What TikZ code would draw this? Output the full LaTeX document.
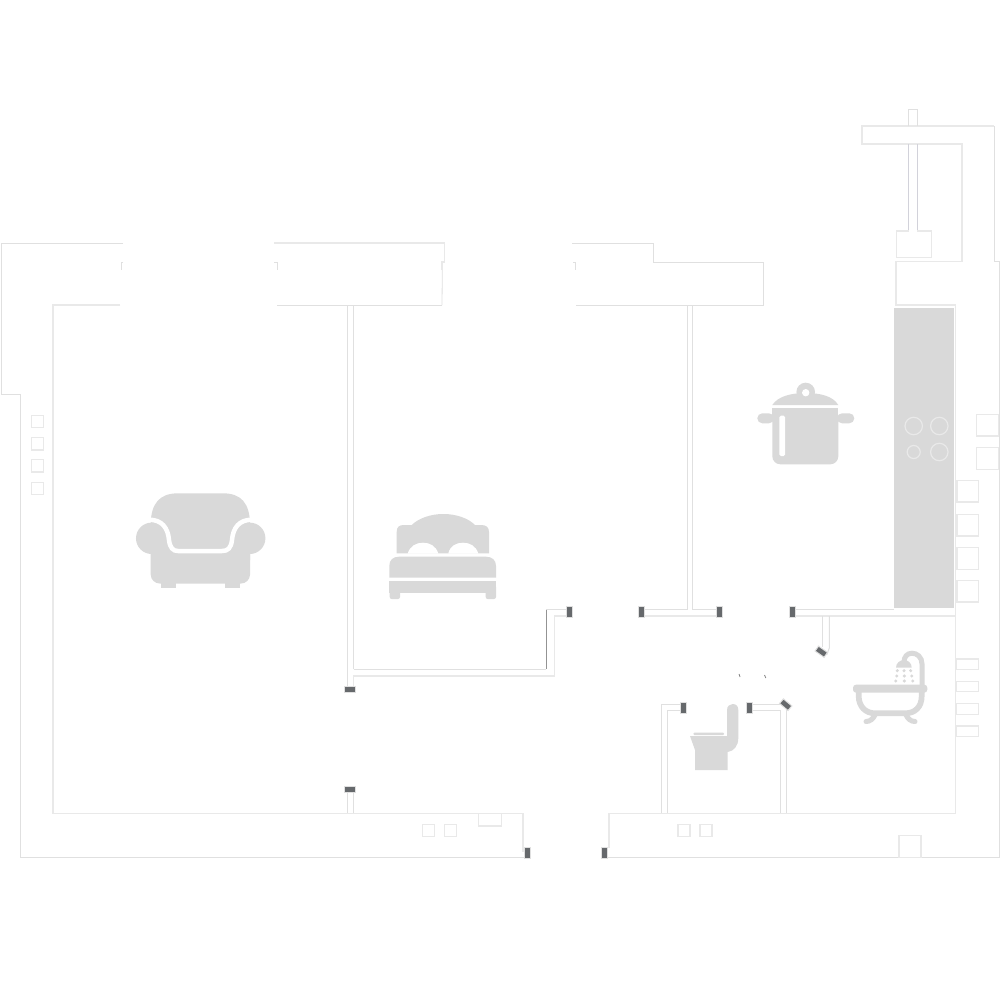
\documentclass[tikz,border=0pt]{standalone}
\definecolor{wallc}{HTML}{E0E0E0}
\definecolor{wallb}{HTML}{E9E9E9}
\definecolor{icon}{HTML}{D9D9D9}
\definecolor{jamb}{HTML}{66696C}
\definecolor{blu}{HTML}{D2D2DA}
\tikzset{
 wall/.style={draw=wallc,line width=0.1mm,line join=miter},
 wallthick/.style={draw=wallb,line width=0.17mm,line join=miter},
 fixture/.style={draw=wallb,line width=0.13mm,fill=white},
 jambbox/.style={fill=jamb,draw=wallc,line width=0.1mm},
 burner/.style={draw=wallb,line width=0.12mm},
 iconfill/.style={fill=icon,draw=none}
}
\begin{document}
\begin{tikzpicture}[x=0.01cm,y=-0.01cm]
\path[use as bounding box,fill=white] (0,0) rectangle (1000,1000);
% left part outer wall
\draw[wall] (123,243) -- (1.5,243) -- (1.5,394) -- (20.5,394) -- (20.5,857.5) -- (524,857.5);
\draw[wallthick] (120,305) -- (53,305) -- (53,813.5) -- (522.7,813.5) -- (522.7,852);
\draw[wall] (123,262) -- (121,262) -- (121,270);
\draw[wall] (274,262) -- (277,262) -- (277,270);
% upper wall pieces
\draw[wallthick] (274,243) -- (444.6,243) -- (444.6,262) -- (442.3,262) -- (442.3,270);
\draw[wall,line width=0.08mm] (442.3,270) -- (442,305);
\draw[wall] (277,305) -- (442,305);
\draw[wall] (572,243) -- (653.5,243) -- (653.5,262) -- (763,262) -- (763,305) -- (576,305);
\draw[wall] (573,262) -- (575.5,262) -- (575.5,270);
% living/bedroom partition
\draw[wall] (347,305) -- (347,686);
\draw[wall] (353.5,305) -- (353.5,669);
\draw[wall] (353.5,669) -- (546,669);
\draw[draw=gray!85,line width=0.1mm] (546,669) -- (546,609);
\draw[wall] (546,609) -- (567,609);
\draw[wallthick] (353.5,686) -- (353.5,676) -- (554.5,676) -- (554.5,616) -- (567,616);
\draw[wall] (347,792) -- (347,813);
\draw[wall] (353.5,792) -- (353.5,813);
% kitchen partition
\draw[wall] (644,609.3) -- (687.3,609.3) -- (687.3,305);
\draw[wall] (692.7,305) -- (692.7,609.3) -- (716,609.3);
\draw[wallthick] (644,615.8) -- (716,615.8);
% hood and chimney
\draw[wallthick] (994,126) -- (861.7,126) -- (861.7,144.3) -- (962,144.3) -- (962,261.5) -- (896.3,261.5) -- (896.3,305.3) -- (955.5,305.3);
\draw[wall] (994,126) -- (994,261.5) -- (999,261.5) -- (999,857.5) -- (607,857.5);
\draw[wall] (908.3,126) -- (908.3,109.5) -- (917.7,109.5) -- (917.7,126);
\draw[blu,line width=0.14mm] (908.3,144) -- (908.3,231);
\draw[blu,line width=0.14mm] (917.7,144) -- (917.7,231);
\draw[fixture] (896.3,231) rectangle (931.7,257.3);
\draw[white,line width=0.14mm] (909,231) -- (917,231);
% counter
\fill[icon] (894.3,307.5) rectangle (954.3,608.3);
\draw[burner] (913.7,426) circle (0.87mm);
\draw[burner] (939.3,426) circle (0.87mm);
\draw[burner] (913.7,452) circle (0.65mm);
\draw[burner] (939.3,452) circle (0.87mm);
% right inner walls
\draw[wallthick] (955.5,305) -- (955.5,813.5) -- (608.7,813.5) -- (608.7,848);
\draw[wall] (795,609) -- (894.3,609);
\draw[wallthick] (795,615.8) -- (955,615.8);
\draw[wall] (822.3,616) -- (822.3,647);
\draw[wall] (829.3,616) -- (829.3,648) -- (826.7,655);
% bathroom walls
\draw[wall] (680,704.3) -- (661.3,704.3) -- (661.3,813);
\draw[wall] (680,710.7) -- (667.3,710.7) -- (667.3,813);
\draw[wall] (752,704.3) -- (782,704.3);
\draw[wall] (752,710.7) -- (780,710.7) -- (780,813);
\draw[wall] (786,708) -- (786,813);
% small fixtures
\foreach \y in {415.3,437.7,459.7,482.3} \draw[fixture] (31.3,\y) rectangle +(12.4,12.4);
\foreach \x in {422.3,444.3} \draw[fixture] (\x,824.3) rectangle +(12.4,12.4);
\foreach \x in {678,700} \draw[fixture] (\x,824.3) rectangle +(12,12);
\draw[fixture] (478.3,813.5) rectangle (501.7,826);
\draw[fixture] (899,835.5) rectangle (921,857.5);
\foreach \y in {414.3,447.7} \draw[fixture] (976.7,\y) rectangle +(21.6,21.6);
\foreach \y in {480.3,514.3,547.7,580.3} \draw[fixture] (957,\y) rectangle +(21.3,21.6);
\foreach \y in {659,681.3,703.7,726} \draw[fixture] (956.7,\y) rectangle +(21.6,10.5);
% door jambs
\draw[jambbox] (344.7,686) rectangle (355.7,692);
\draw[jambbox] (344.7,786.7) rectangle (355.7,792.7);
\draw[jambbox] (566.7,606.7) rectangle (572.7,617.7);
\draw[jambbox] (638.3,606.7) rectangle (644.3,617.7);
\draw[jambbox] (716,606.7) rectangle (722,617.7);
\draw[jambbox] (789.3,606.7) rectangle (795.3,617.7);
\draw[jambbox] (680,702.3) rectangle (686,713.3);
\draw[jambbox] (746,702.3) rectangle (752,713.3);
\draw[jambbox] (524,847.7) rectangle (530,858);
\draw[jambbox] (601.7,847.7) rectangle (607.7,858);
\begin{scope}[shift={(821.3,651.7)},rotate=-35]
\draw[jambbox] (-5.5,-3) rectangle (5.5,3);
\end{scope}
\begin{scope}[shift={(785.7,704.7)},rotate=-40]
\draw[jambbox] (-5.5,-3) rectangle (5.5,3);
\end{scope}
% specks
\draw[draw=gray,line width=0.08mm] (739,674) -- (740,677);
\draw[draw=gray,line width=0.08mm] (764.5,675) -- (765.8,678);
% armchair
\fill[icon] (150.7,525) .. controls (150.7,503) and (160,493.3) .. (178,493.3) -- (223,493.3) .. controls (241,493.3) and (250,503) .. (250,525) -- (250,560) -- cycle;
\fill[icon] (151.7,538.3) circle (1.57mm);
\fill[icon] (249.7,538.3) circle (1.57mm);
\fill[icon,rounded corners=0.9mm] (150.7,530) rectangle (250,583.5);
\fill[icon] (160.7,580) rectangle (175.7,588);
\fill[icon] (225.3,580) rectangle (240,588);
\fill[icon] (160,520) rectangle (241,552);
\draw[white,line width=0.45mm] (149,519.7) .. controls (162,519.7) and (168,528) .. (169,540) .. controls (170,548) and (173,551) .. (178,551) -- (222,551) .. controls (228,551) and (231,548) .. (232,540) .. controls (233,528) and (239,519.7) .. (252,519.7);
% bed
\fill[icon] (396.7,553.3) -- (396.7,532) .. controls (396.7,527) and (399,525) .. (404,525) -- (411.7,525) .. controls (419,518) and (431,514) .. (443.3,514) .. controls (456,514) and (468,518) .. (475,525) -- (481,525) .. controls (486,525) and (489,527) .. (489,532) -- (489,553.3) -- cycle;
\fill[white] (407.7,553.5) .. controls (410,546) and (416,542.7) .. (423,542.7) .. controls (430,542.7) and (436,546) .. (438.3,553.5) -- cycle;
\fill[white] (448.3,553.5) .. controls (450,546) and (456,542.7) .. (463,542.7) .. controls (470,542.7) and (476,546) .. (478.3,553.5) -- cycle;
\fill[icon] (389.3,577.7) -- (389.3,566) .. controls (389.3,560) and (393,556.7) .. (399,556.7) -- (486,556.7) .. controls (492,556.7) and (496,560) .. (496,566) -- (496,577.7) -- cycle;
\fill[icon] (389.3,581) rectangle (496,592.7);
\fill[icon,rounded corners=0.2mm] (389.7,585) rectangle (400,599);
\fill[icon,rounded corners=0.2mm] (485.7,585) rectangle (496,599);
% pot
\fill[icon] (805.7,392) circle (0.93mm);
\fill[icon] (772.3,405) .. controls (778,396) and (792,393) .. (805.7,393) .. controls (820,393) and (833,396) .. (838.3,405) -- cycle;
\fill[white] (805.7,392.7) circle (0.37mm);
\fill[icon,rounded corners=0.8mm] (772.3,408.3) rectangle (838.3,464.3);
\fill[icon] (772.3,408.3) rectangle (838.3,420);
\fill[icon,rounded corners=0.5mm] (757.3,413.3) rectangle (774,423.3);
\fill[icon,rounded corners=0.5mm] (837,413.3) rectangle (854.3,423.3);
\fill[white,rounded corners=0.15mm] (779.3,415.7) rectangle (785,456);
% bath
\fill[icon,rounded corners=0.3mm] (853,684.7) rectangle (927.3,692.7);
\draw[icon,line width=0.57mm] (858.7,691) -- (858.7,696) .. controls (858.7,707) and (866,713.3) .. (875,713.3) -- (905,713.3) .. controls (915,713.3) and (921.7,707) .. (921.7,696) -- (921.7,691);
\draw[icon,line width=0.5mm,line cap=round] (875,715) .. controls (873,719) and (870,721.5) .. (866,721.5);
\draw[icon,line width=0.5mm,line cap=round] (906,715) .. controls (908,719) and (911,721.5) .. (915,721.5);
\draw[icon,line width=0.5mm] (922,686) -- (922,664) .. controls (922,657) and (917,653.2) .. (912,653.2) .. controls (907,653.2) and (904,657) .. (904,662);
\fill[icon] (896,667.7) .. controls (896,663) and (900,660) .. (904,660) .. controls (908,660) and (911.7,663) .. (911.7,667.7) -- cycle;
\foreach \p in {(897.3,670.7),(904,670.7),(910.7,670.7),(896.7,676),(904.3,676),(911.7,676),(895.7,681),(904.3,681),(912.7,681)}
  \fill[icon] \p circle (0.17mm);
% toilet
\fill[icon,rounded corners=0.1mm] (693.3,732.7) rectangle (724,735);
\fill[icon] (690,736) -- (727,736) -- (727,710) .. controls (727,706) and (730,704) .. (732.7,704) .. controls (736,704) and (738.3,706) .. (738.3,710) -- (738.3,738) .. controls (738.3,746) and (734,751) .. (727.7,752) -- (727.7,770) -- (695,770) -- (695,750) -- cycle;
\end{tikzpicture}
\end{document}
